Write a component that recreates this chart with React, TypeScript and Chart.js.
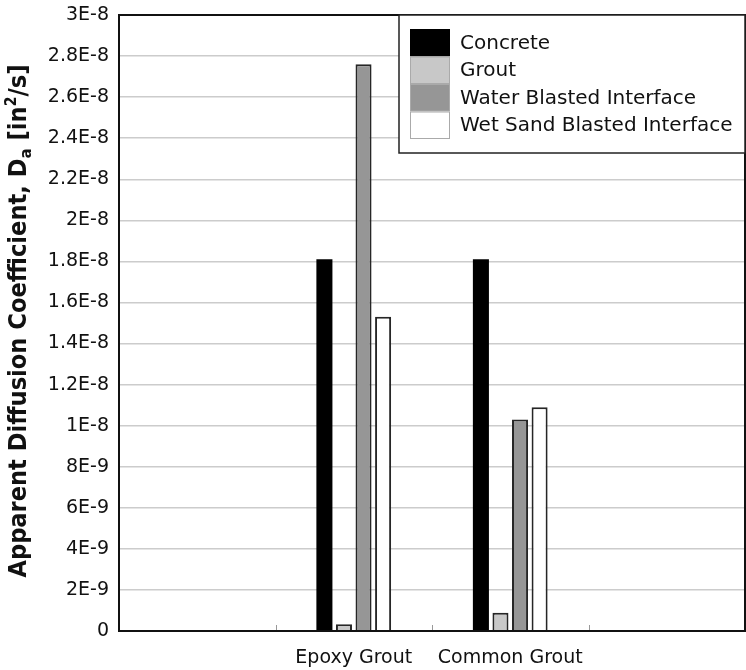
import React, { useEffect, useRef } from "react";
import { Chart, registerables } from "chart.js";

Chart.register(...registerables);

const categories = ["", "Epoxy Grout", "Common Grout", ""];
const seriesNames = ["Concrete", "Grout", "Water Blasted Interface", "Wet Sand Blasted Interface"];
const concrete = [null, 1.81e-8, 1.81e-8, null];
const grout = [null, 3.3e-10, 8.9e-10, null];
const waterBlasted = [null, 2.76e-8, 1.03e-8, null];
const wetSandBlasted = [null, 1.53e-8, 1.09e-8, null];
const seriesColors = ["#000000", "#c8c8c8", "#969696", "#ffffff"];
const yTickLabels = [
  "0", "2E-9", "4E-9", "6E-9", "8E-9", "1E-8", "1.2E-8", "1.4E-8",
  "1.6E-8", "1.8E-8", "2E-8", "2.2E-8", "2.4E-8", "2.6E-8", "2.8E-8", "3E-8",
];
const yMin = 0;
const yMax = 3e-8;
const yStep = 2e-9;
// y-axis title pieces: [text, role] where role is normal / sub / sup
const yTitleParts: [string, string][] = [
  ["Apparent Diffusion Coefficient, D", "n"],
  ["a", "sub"],
  [" [in", "n"],
  ["2", "sup"],
  ["/s]", "n"],
];

const FONT = "'DejaVu Sans', sans-serif";

const titlePlugin = {
  id: "yTitle",
  afterDraw(chart: any) {
    const ctx = chart.ctx;
    const area = chart.chartArea;
    const sizes: any = { n: 24, sub: 16, sup: 15 };
    const dys: any = { n: 0, sub: 5, sup: -10 };
    ctx.save();
    let total = 0;
    const widths = yTitleParts.map(([t, r]) => {
      ctx.font = `bold ${sizes[r]}px ${FONT}`;
      const w = ctx.measureText(t).width;
      total += w;
      return w;
    });
    const targetLen = 513;
    const cy = (area.top + area.bottom) / 2 - 2;
    ctx.translate(26, cy);
    ctx.rotate(-Math.PI / 2);
    ctx.scale(targetLen / total, 1);
    ctx.fillStyle = "#111111";
    ctx.textBaseline = "alphabetic";
    ctx.textAlign = "left";
    let x = -total / 2;
    yTitleParts.forEach(([t, r], i) => {
      ctx.font = `bold ${sizes[r]}px ${FONT}`;
      ctx.fillText(t, x, dys[r]);
      x += widths[i];
    });
    ctx.restore();
  },
};

const frameAndTicksPlugin = {
  id: "frameTicks",
  afterDatasetsDraw(chart: any) {
    const ctx = chart.ctx;
    const xs = chart.scales.x;
    const { left, top, right, bottom } = chart.chartArea;
    ctx.save();
    ctx.strokeStyle = "#999999";
    ctx.lineWidth = 1;
    for (let i = 1; i < categories.length; i++) {
      const x = (xs.getPixelForTick(i - 1) + xs.getPixelForTick(i)) / 2;
      ctx.beginPath();
      ctx.moveTo(Math.round(x) + 0.5, bottom);
      ctx.lineTo(Math.round(x) + 0.5, bottom - 6);
      ctx.stroke();
    }
    ctx.strokeStyle = "#111111";
    ctx.lineWidth = 2;
    ctx.strokeRect(left, top, right - left, bottom - top);
    ctx.restore();
  },
};

const legendPlugin = {
  id: "boxLegend",
  afterDraw(chart: any) {
    const ctx = chart.ctx;
    const area = chart.chartArea;
    const left = 399;
    const top = area.top;
    const right = area.right;
    const rowH = 27.5;
    const bottom = 153;
    ctx.save();
    ctx.fillStyle = "#ffffff";
    ctx.fillRect(left, top, right - left, bottom - top);
    ctx.strokeStyle = "#222222";
    ctx.lineWidth = 1.5;
    ctx.strokeRect(left, top, right - left, bottom - top);
    ctx.font = `20px ${FONT}`;
    ctx.textBaseline = "middle";
    ctx.textAlign = "left";
    seriesNames.forEach((name, i) => {
      const y = 29 + i * rowH;
      ctx.fillStyle = seriesColors[i];
      ctx.fillRect(410, y, 40, rowH);
      if (i > 0) {
        ctx.strokeStyle = "#aaaaaa";
        ctx.lineWidth = 1;
        ctx.strokeRect(410.5, y + 0.5, 39, rowH - 1);
      }
      ctx.fillStyle = "#111111";
      ctx.fillText(name, 460, y + rowH / 2 + 1);
    });
    ctx.restore();
  },
};

export default function App() {
  const ref = useRef<HTMLCanvasElement | null>(null);
  useEffect(() => {
    if (!ref.current) return;
    Chart.defaults.font.family = FONT;
    const mk = (label: string, data: any[], i: number) => ({
      label,
      data,
      backgroundColor: seriesColors[i],
      borderColor: i === 0 ? "#000000" : "#262626",
      borderWidth: i === 0 ? 0 : 2,
      categoryPercentage: 0.5,
      barPercentage: 0.82,
    });
    const chart = new Chart(ref.current, {
      type: "bar",
      data: {
        labels: categories,
        datasets: [
          mk(seriesNames[0], concrete, 0),
          mk(seriesNames[1], grout, 1),
          mk(seriesNames[2], waterBlasted, 2),
          mk(seriesNames[3], wetSandBlasted, 3),
        ],
      },
      options: {
        responsive: false,
        devicePixelRatio: 1,
        animation: false,
        layout: { padding: { top: 15, right: 1, left: 0, bottom: 0 } },
        plugins: {
          legend: { display: false },
          tooltip: { enabled: false },
        },
        scales: {
          x: {
            grid: { display: false, drawTicks: false },
            border: { display: true, color: "#111111", width: 2 },
            ticks: {
              color: "#111111",
              font: { size: 19, family: FONT },
              padding: 16,
              autoSkip: false,
              maxRotation: 0,
            },
            afterFit(scale: any) {
              scale.height = 39;
              scale.paddingLeft = 0;
              scale.paddingRight = 0;
            },
          },
          y: {
            min: yMin,
            max: yMax,
            grid: { color: "#cccccc", lineWidth: 1.5, drawTicks: false },
            border: { display: true, color: "#111111", width: 2 },
            ticks: {
              stepSize: yStep,
              color: "#111111",
              font: { size: 19, family: FONT },
              padding: 10,
              callback: (_v: any, i: number) => yTickLabels[i],
            },
            afterFit(scale: any) {
              scale.width = 119;
              scale.paddingTop = 0;
              scale.paddingBottom = 0;
            },
          },
        },
      },
      plugins: [frameAndTicksPlugin, legendPlugin, titlePlugin],
    } as any);
    return () => chart.destroy();
  }, []);
  return (
    <div style={{ position: "fixed", left: 0, top: 0, width: 746, height: 670, background: "#fff" }}>
      <canvas ref={ref} width={746} height={670} />
    </div>
  );
}
